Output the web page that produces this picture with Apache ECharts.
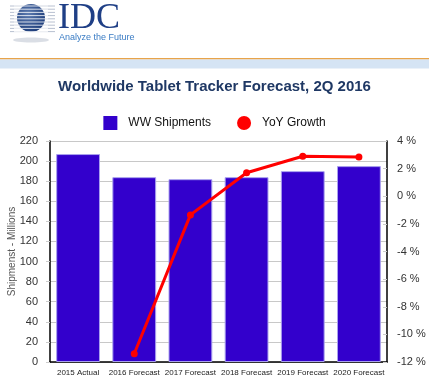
<!DOCTYPE html>
<html><head><meta charset="utf-8">
<script src="https://cdn.jsdelivr.net/npm/echarts@6/dist/echarts.min.js"></script>
<style>html,body{margin:0;padding:0;background:#fff}#c{width:429px;height:385px}</style>
</head><body><div id="c"></div>
<script>
const categories = ['2015 Actual','2016 Forecast','2017 Forecast','2018 Forecast','2019 Forecast','2020 Forecast'];
const shipments = [207, 184, 182, 184, 190, 195];
const yoyGrowth = [null, -11.4, -1.35, 1.7, 2.9, 2.85];
const leftTicks = {min:0, max:220, interval:20};
const rightTicks = {min:-12, max:4, interval:2};

const chart = echarts.init(document.getElementById('c'));
const stripes = [];
for (let i = 0; i < 9; i++) {
  const y = 6 + i * 3.2;
  stripes.push({type:'line', shape:{x1:10,y1:y,x2:55,y2:y}, style:{stroke:'#b8c0d0', lineWidth:1}});
}
const whiteStripes = [];
for (let i = 0; i < 9; i++) {
  const y = 6 + i * 3.2;
  whiteStripes.push({type:'line', shape:{x1:14,y1:y,x2:48,y2:y}, style:{stroke:'rgba(255,255,255,0.8)', lineWidth:1}});
}
chart.setOption({
  animation:false,
  backgroundColor:'#fff',
  title:{text:'Worldwide Tablet Tracker Forecast, 2Q 2016', left:'center', top:74,
    textStyle:{fontFamily:'Liberation Sans, Arial', fontSize:15, fontWeight:'bold', color:'#1f3864'}},
  legend:{top:111, left:'center', itemGap:26, itemWidth:14, itemHeight:14,
    itemStyle:{borderWidth:0},
    textStyle:{fontFamily:'Liberation Sans, Arial', fontSize:12, color:'#111', padding:[0,0,0,6]},
    data:[{name:'WW Shipments', icon:'rect'},{name:'YoY Growth', icon:'circle'}]},
  graphic:[
    {type:'rect', shape:{x:0,y:58,width:429,height:1.6}, style:{fill:'#e8a44a'}},
    {type:'rect', shape:{x:0,y:59.6,width:429,height:9}, style:{fill:'#d5e4f4'}},
    ...stripes,
    {type:'circle', shape:{cx:31,cy:18,r:14}, style:{fill:{type:'radial',x:0.4,y:0.35,r:0.7,colorStops:[{offset:0,color:'#5d7bb0'},{offset:1,color:'#1a3a78'}]}}},
    ...whiteStripes,
    {type:'ellipse', shape:{cx:31,cy:40,rx:18,ry:2.5}, style:{fill:'rgba(150,160,180,0.35)'}},
    {type:'text', left:58, top:1, style:{text:'IDC', fontFamily:'Liberation Serif, Times New Roman', fontSize:36, fill:'#1f3f86'}},
    {type:'text', left:59, top:33, style:{text:'Analyze the Future', fontFamily:'Liberation Sans, Arial', fontSize:9, fill:'#3a7cc4'}}
  ],
  grid:{left:50, right:42, top:141, bottom:23, containLabel:false, outerBoundsMode:'none'},
  xAxis:{type:'category', data:categories,
    axisLine:{lineStyle:{color:'#000', width:1.5}}, axisTick:{show:false},
    axisLabel:{fontFamily:'Liberation Sans, Arial', fontSize:8, color:'#222', interval:0, margin:7}},
  yAxis:[
    {type:'value', min:leftTicks.min, max:leftTicks.max, interval:leftTicks.interval,
     name:'Shipmenst - Millions', nameLocation:'middle', nameGap:33, nameRotate:90, nameMoveOverlap:false,
     nameTextStyle:{fontFamily:'Liberation Sans, Arial', fontSize:10, color:'#555'},
     axisLine:{show:true, lineStyle:{color:'#000', width:1.5}}, axisTick:{show:true, length:4, lineStyle:{color:'#ccc'}},
     axisLabel:{fontFamily:'Liberation Sans, Arial', fontSize:11, color:'#333', margin:12},
     splitLine:{lineStyle:{color:'#c8c8c8'}}},
    {type:'value', min:rightTicks.min, max:rightTicks.max, interval:rightTicks.interval, position:'right',
     axisLine:{show:true, lineStyle:{color:'#000', width:1.5}}, axisTick:{show:true, length:4, lineStyle:{color:'#ccc'}, inside:true},
     axisLabel:{formatter:'{value} %', fontFamily:'Liberation Sans, Arial', fontSize:11, color:'#333', margin:10},
     splitLine:{show:false}}
  ],
  series:[
    {name:'WW Shipments', type:'bar', data:shipments, barWidth:'78%', yAxisIndex:0,
     itemStyle:{color:'#3300cc', borderColor:'#a9a0ee', borderWidth:1}},
    {name:'YoY Growth', type:'line', data:yoyGrowth, yAxisIndex:1, symbol:'circle', symbolSize:7,
     lineStyle:{color:'#ff0000', width:3}, itemStyle:{color:'#ff0000'}}
  ]
});
</script></body></html>
